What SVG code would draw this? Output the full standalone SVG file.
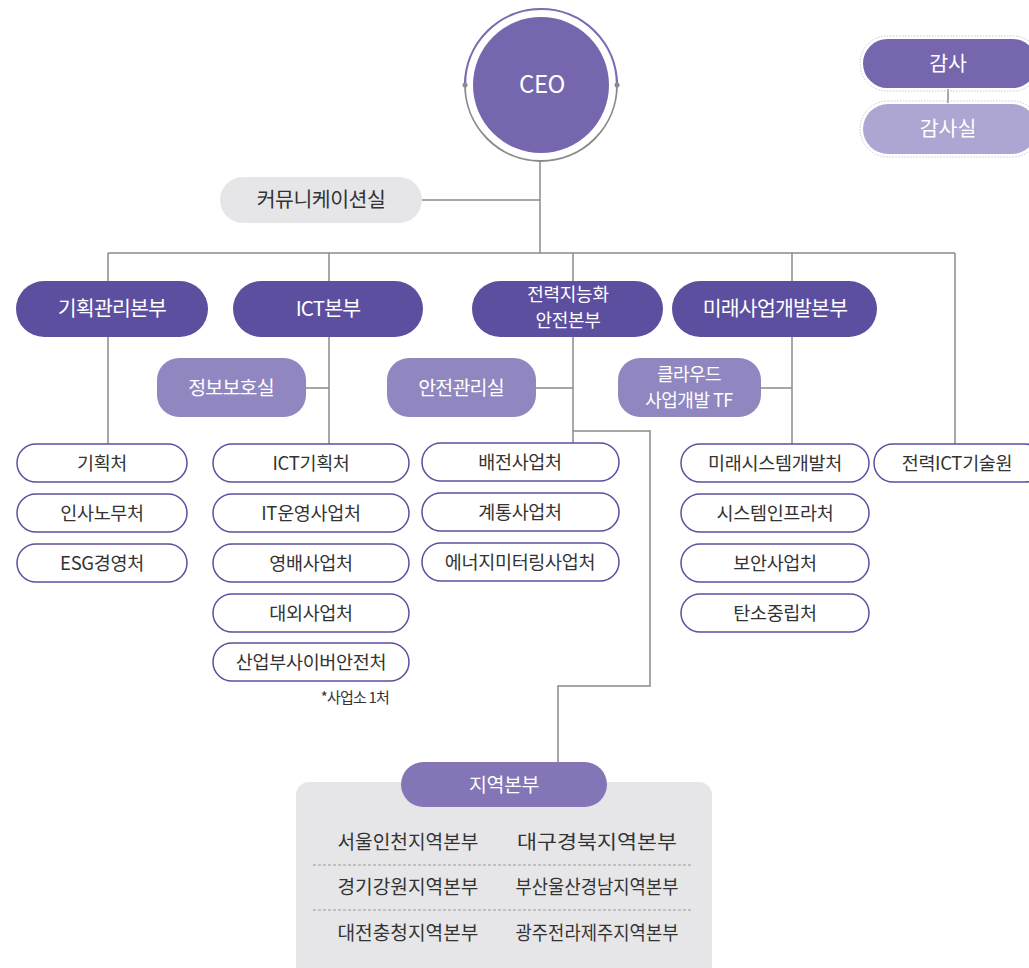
<svg xmlns="http://www.w3.org/2000/svg" width="1029" height="968" viewBox="0 0 1029 968">
<defs>
<style>
text{font-family:"Noto Sans CJK KR","Noto Sans",sans-serif;text-anchor:middle}
.con line,.con polyline,.con path{stroke:#8a8a8a;stroke-width:1.5;fill:none}
.top rect{fill:#5d4f9f}
.top text{fill:#fff;font-size:20.5px;letter-spacing:-0.8px}
.sec rect{fill:#9087c0}
.sec text{fill:#fff;font-size:19.5px;letter-spacing:-0.8px}
.leaf rect{fill:#fff;stroke:#5d4f9f;stroke-width:1.5}
.leaf text{fill:#333;font-size:18.5px;letter-spacing:-0.3px}
.reg text{fill:#333;font-size:19.5px}
</style>
</defs>
<rect width="1029" height="968" fill="#fff"/>

<g class="con">
<line x1="540" y1="161" x2="540" y2="253"/>
<line x1="422" y1="200" x2="540" y2="200"/>
<line x1="108" y1="253" x2="955" y2="253"/>
<line x1="108" y1="253" x2="108" y2="444"/>
<line x1="329" y1="253" x2="329" y2="444"/>
<line x1="573" y1="253" x2="573" y2="443"/>
<line x1="792" y1="253" x2="792" y2="444"/>
<line x1="955" y1="253" x2="955" y2="444"/>
<line x1="306" y1="388" x2="329" y2="388"/>
<line x1="536" y1="388" x2="573" y2="388"/>
<line x1="761" y1="388" x2="792" y2="388"/>
<polyline points="573,431 650,431 650,686 558,686 558,762"/>
<line x1="948" y1="89" x2="948" y2="103"/>
</g>

<g id="ceo">
<path d="M465,85 A76,76 0 0 1 617,85" stroke="#7a6bb2" stroke-width="2.2" fill="none"/>
<path d="M465,85 A76,76 0 0 0 617,85" stroke="#8a8a8a" stroke-width="1.8" fill="none"/>
<circle cx="465" cy="85" r="2.5" fill="#8a8a8a"/>
<circle cx="617" cy="85" r="2.5" fill="#8a8a8a"/>
<circle cx="541" cy="85" r="68" fill="#7566ae"/>
<text x="542" y="93" fill="#fff" font-size="24" letter-spacing="-0.5">CEO</text>
</g>

<g id="audit">
<rect x="860" y="36" width="180" height="55" rx="27" fill="none" stroke="#c9c3e2" stroke-width="1" stroke-dasharray="1.5 1.5"/>
<rect x="863" y="39" width="174" height="49" rx="24.5" fill="#7566ae"/>
<text x="948" y="71" fill="#fff" font-size="20.5">감사</text>
</g>
<g id="audit-office">
<rect x="860" y="101" width="180" height="56" rx="28" fill="none" stroke="#c9c3e2" stroke-width="1" stroke-dasharray="1.5 1.5"/>
<rect x="863" y="104" width="174" height="50" rx="25" fill="#aea6d2"/>
<text x="948" y="136" fill="#fff" font-size="20.5">감사실</text>
</g>

<g id="comm">
<rect x="220" y="177" width="202" height="46" rx="23" fill="#e6e6e8"/>
<text x="321" y="207" fill="#333" font-size="20.5" letter-spacing="-0.5">커뮤니케이션실</text>
</g>

<g id="hq1" class="top"><rect x="16" y="281" width="192" height="56" rx="28"/><text x="112" y="316">기획관리본부</text></g>
<g id="hq2" class="top"><rect x="233" y="281" width="190" height="56" rx="28"/><text x="328" y="316">ICT본부</text></g>
<g id="hq3" class="top"><rect x="472" y="281" width="191" height="56" rx="28"/><text x="568" y="301" style="font-size:18px;letter-spacing:-0.3px">전력지능화<tspan x="568" y="327">안전본부</tspan></text></g>
<g id="hq4" class="top"><rect x="672" y="281" width="205" height="56" rx="28"/><text x="775" y="316">미래사업개발본부</text></g>

<g id="sec1" class="sec"><rect x="157" y="358" width="149" height="59" rx="22"/><text x="231" y="395">정보보호실</text></g>
<g id="sec2" class="sec"><rect x="387" y="358" width="149" height="59" rx="22"/><text x="461" y="395">안전관리실</text></g>
<g id="sec3" class="sec"><rect x="618" y="358" width="143" height="59" rx="22"/><text x="689" y="381" style="font-size:18px;letter-spacing:-0.5px">클라우드<tspan x="689" y="407">사업개발 TF</tspan></text></g>

<g id="l1a" class="leaf"><rect x="17" y="444" width="170" height="38" rx="19"/><text x="102" y="470">기획처</text></g>
<g id="l1b" class="leaf"><rect x="17" y="494" width="170" height="38" rx="19"/><text x="102" y="520">인사노무처</text></g>
<g id="l1c" class="leaf"><rect x="17" y="544" width="170" height="38" rx="19"/><text x="102" y="570">ESG경영처</text></g>

<g id="l2a" class="leaf"><rect x="213" y="444" width="196" height="38" rx="19"/><text x="311" y="470">ICT기획처</text></g>
<g id="l2b" class="leaf"><rect x="213" y="494" width="196" height="38" rx="19"/><text x="311" y="520">IT운영사업처</text></g>
<g id="l2c" class="leaf"><rect x="213" y="544" width="196" height="38" rx="19"/><text x="311" y="570">영배사업처</text></g>
<g id="l2d" class="leaf"><rect x="213" y="594" width="196" height="38" rx="19"/><text x="311" y="620">대외사업처</text></g>
<g id="l2e" class="leaf"><rect x="213" y="643" width="196" height="38" rx="19"/><text x="311" y="669">산업부사이버안전처</text></g>
<text x="389" y="703" fill="#333" font-size="15" letter-spacing="-0.8" style="text-anchor:end">*사업소 1처</text>

<g id="l3a" class="leaf"><rect x="422" y="443" width="197" height="38" rx="19"/><text x="520" y="469">배전사업처</text></g>
<g id="l3b" class="leaf"><rect x="422" y="493" width="197" height="38" rx="19"/><text x="520" y="519">계통사업처</text></g>
<g id="l3c" class="leaf"><rect x="422" y="543" width="197" height="38" rx="19"/><text x="520" y="569">에너지미터링사업처</text></g>

<g id="l4a" class="leaf"><rect x="681" y="444" width="188" height="38" rx="19"/><text x="775" y="470">미래시스템개발처</text></g>
<g id="l4b" class="leaf"><rect x="681" y="494" width="188" height="38" rx="19"/><text x="775" y="520">시스템인프라처</text></g>
<g id="l4c" class="leaf"><rect x="681" y="544" width="188" height="38" rx="19"/><text x="775" y="570">보안사업처</text></g>
<g id="l4d" class="leaf"><rect x="681" y="594" width="188" height="38" rx="19"/><text x="775" y="620">탄소중립처</text></g>

<g id="l5" class="leaf"><rect x="874" y="444" width="170" height="38" rx="19"/><text x="957" y="470">전력ICT기술원</text></g>

<g id="regional" class="reg">
<rect x="296" y="782" width="416" height="200" rx="13" fill="#e6e6e8"/>
<line x1="313" y1="865" x2="692" y2="865" stroke="#9a9a9a" stroke-width="1" stroke-dasharray="3 2"/>
<line x1="313" y1="910" x2="692" y2="910" stroke="#9a9a9a" stroke-width="1" stroke-dasharray="3 2"/>
<rect x="401" y="762" width="206" height="45" rx="22.5" fill="#8375b6"/>
<text x="504" y="792" style="fill:#fff" font-size="19" letter-spacing="-0.5">지역본부</text>
<text x="408" y="849" textLength="141" lengthAdjust="spacingAndGlyphs">서울인천지역본부</text>
<text x="597" y="849" textLength="160" lengthAdjust="spacingAndGlyphs">대구경북지역본부</text>
<text x="408" y="894" textLength="141" lengthAdjust="spacingAndGlyphs">경기강원지역본부</text>
<text x="597" y="894" textLength="163" lengthAdjust="spacingAndGlyphs">부산울산경남지역본부</text>
<text x="408" y="940" textLength="141" lengthAdjust="spacingAndGlyphs">대전충청지역본부</text>
<text x="597" y="940" textLength="163" lengthAdjust="spacingAndGlyphs">광주전라제주지역본부</text>
</g>
</svg>
